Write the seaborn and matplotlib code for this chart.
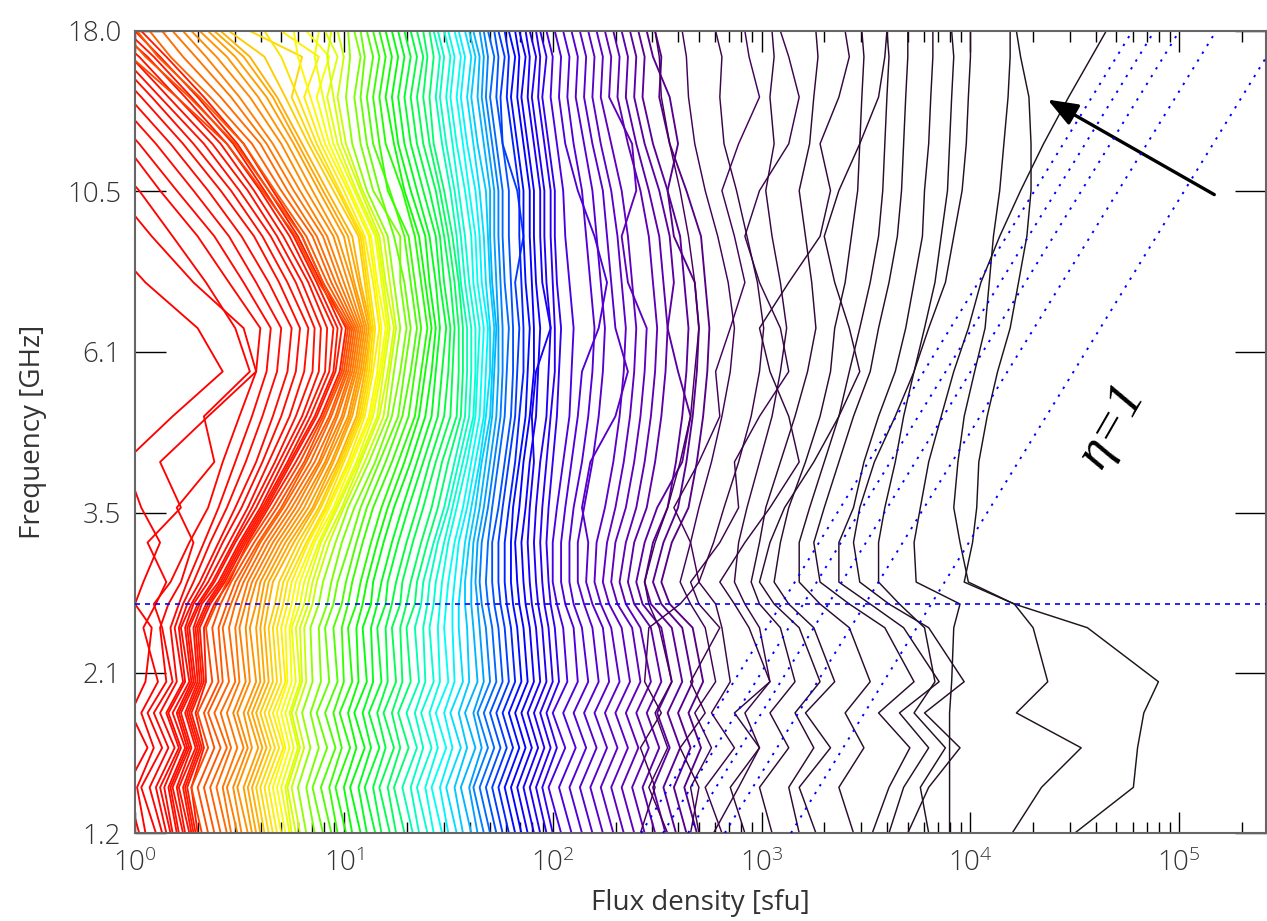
import numpy as np
import pandas as pd
import seaborn as sns
import matplotlib.pyplot as plt
from matplotlib.colors import LinearSegmentedColormap
from matplotlib.ticker import NullLocator, LogLocator

sns.set_theme(style="ticks")
plt.rcParams['font.family'] = ['Open Sans', 'DejaVu Sans']
plt.rcParams['font.weight'] = 'light'

# %% data: spectra as log10(flux / sfu) at each frequency channel
nu_ghz = [1.2, 1.4, 1.6, 1.8, 2.0, 2.4, 2.6, 2.8, 3.2, 3.6, 4.2, 4.9, 5.7, 6.6, 7.7, 9.0, 10.5, 12.3, 14.4, 16.5, 18.0]

red_logS = [
    [0.02, -0.04, 0.06, -0.02, 0.05, 0.08, 0.00, 0.04, 0.12, 0.03, -0.05, 0.18, 0.42, 0.30, 0.05, -0.15, -0.35, -0.55, -0.75, -0.90, -1.00],
    [0.05, 0.01, 0.09, 0.03, 0.11, 0.04, 0.10, 0.15, 0.06, 0.22, 0.12, 0.35, 0.58, 0.52, 0.28, 0.08, -0.10, -0.30, -0.55, -0.75, -0.90],
    [0.10, 0.03, 0.13, 0.06, 0.15, 0.12, 0.16, 0.22, 0.28, 0.20, 0.38, 0.33, 0.55, 0.48, 0.34, 0.18, 0.02, -0.18, -0.40, -0.60, -0.75],
    [0.13, 0.07, 0.16, 0.09, 0.18, 0.13, 0.09, 0.17, 0.26, 0.35, 0.42, 0.50, 0.58, 0.60, 0.45, 0.30, 0.12, -0.05, -0.25, -0.45, -0.60],
    [0.15, 0.10, 0.19, 0.12, 0.20, 0.17, 0.21, 0.25, 0.33, 0.40, 0.48, 0.56, 0.63, 0.65, 0.52, 0.38, 0.20, 0.02, -0.18, -0.36, -0.50],
    [0.17, 0.12, 0.21, 0.15, 0.23, 0.19, 0.23, 0.28, 0.36, 0.44, 0.53, 0.61, 0.68, 0.70, 0.58, 0.45, 0.28, 0.10, -0.10, -0.28, -0.43],
    [0.18, 0.14, 0.22, 0.16, 0.24, 0.21, 0.25, 0.31, 0.40, 0.48, 0.58, 0.66, 0.73, 0.75, 0.64, 0.51, 0.35, 0.17, -0.03, -0.21, -0.35],
    [0.20, 0.16, 0.24, 0.18, 0.26, 0.22, 0.27, 0.33, 0.42, 0.51, 0.61, 0.70, 0.77, 0.79, 0.69, 0.57, 0.41, 0.23, 0.03, -0.15, -0.29],
    [0.21, 0.17, 0.25, 0.20, 0.27, 0.24, 0.28, 0.35, 0.45, 0.54, 0.64, 0.74, 0.81, 0.83, 0.73, 0.61, 0.46, 0.28, 0.08, -0.10, -0.24],
    [0.23, 0.18, 0.26, 0.21, 0.28, 0.25, 0.30, 0.37, 0.47, 0.56, 0.67, 0.77, 0.85, 0.86, 0.77, 0.65, 0.50, 0.33, 0.12, -0.06, -0.20],
    [0.24, 0.20, 0.27, 0.22, 0.29, 0.26, 0.31, 0.38, 0.48, 0.58, 0.69, 0.80, 0.88, 0.89, 0.80, 0.68, 0.54, 0.37, 0.16, -0.02, -0.16],
    [0.26, 0.21, 0.29, 0.24, 0.30, 0.28, 0.32, 0.40, 0.50, 0.60, 0.71, 0.82, 0.91, 0.92, 0.83, 0.71, 0.57, 0.41, 0.20, 0.02, -0.12],
    [0.27, 0.23, 0.30, 0.25, 0.31, 0.29, 0.34, 0.41, 0.51, 0.61, 0.73, 0.84, 0.93, 0.95, 0.85, 0.74, 0.60, 0.44, 0.24, 0.06, -0.08],
    [0.28, 0.24, 0.31, 0.26, 0.32, 0.30, 0.35, 0.42, 0.52, 0.62, 0.74, 0.86, 0.95, 0.97, 0.87, 0.76, 0.62, 0.47, 0.27, 0.09, -0.04],
    [0.29, 0.25, 0.32, 0.27, 0.33, 0.31, 0.36, 0.43, 0.53, 0.63, 0.75, 0.87, 0.96, 0.99, 0.89, 0.78, 0.64, 0.49, 0.30, 0.12, 0.00],
    [0.30, 0.27, 0.33, 0.29, 0.34, 0.33, 0.38, 0.45, 0.54, 0.64, 0.77, 0.89, 0.98, 1.01, 0.90, 0.80, 0.66, 0.52, 0.33, 0.15, 0.03],
]

orange_logS = [
    [0.32, 0.27, 0.35, 0.30, 0.37, 0.34, 0.39, 0.44, 0.55, 0.66, 0.79, 0.90, 0.99, 1.02, 0.88, 0.77, 0.61, 0.44, 0.20, -0.02, -0.15],
    [0.35, 0.30, 0.38, 0.33, 0.40, 0.37, 0.41, 0.46, 0.57, 0.68, 0.81, 0.91, 1.00, 1.03, 0.90, 0.80, 0.64, 0.48, 0.26, 0.05, -0.06],
    [0.38, 0.33, 0.41, 0.35, 0.42, 0.40, 0.44, 0.48, 0.59, 0.70, 0.82, 0.93, 1.01, 1.04, 0.92, 0.82, 0.67, 0.52, 0.31, 0.11, 0.01],
    [0.41, 0.36, 0.44, 0.38, 0.45, 0.42, 0.46, 0.50, 0.60, 0.71, 0.84, 0.94, 1.02, 1.05, 0.94, 0.85, 0.70, 0.56, 0.36, 0.17, 0.07],
    [0.44, 0.39, 0.46, 0.41, 0.48, 0.45, 0.48, 0.52, 0.62, 0.73, 0.86, 0.96, 1.03, 1.06, 0.96, 0.87, 0.73, 0.60, 0.41, 0.23, 0.13],
    [0.46, 0.42, 0.49, 0.44, 0.50, 0.48, 0.51, 0.54, 0.64, 0.75, 0.88, 0.97, 1.04, 1.07, 0.98, 0.90, 0.76, 0.63, 0.46, 0.29, 0.18],
    [0.49, 0.44, 0.52, 0.47, 0.53, 0.50, 0.53, 0.56, 0.66, 0.77, 0.89, 0.99, 1.05, 1.08, 1.00, 0.92, 0.79, 0.66, 0.50, 0.34, 0.23],
    [0.51, 0.47, 0.54, 0.49, 0.55, 0.53, 0.55, 0.58, 0.68, 0.79, 0.91, 1.00, 1.06, 1.09, 1.02, 0.95, 0.82, 0.70, 0.55, 0.39, 0.27],
    [0.54, 0.49, 0.56, 0.52, 0.58, 0.55, 0.58, 0.60, 0.70, 0.81, 0.92, 1.02, 1.07, 1.10, 1.04, 0.97, 0.85, 0.73, 0.59, 0.44, 0.31],
    [0.56, 0.52, 0.59, 0.54, 0.60, 0.58, 0.60, 0.62, 0.72, 0.83, 0.94, 1.03, 1.08, 1.11, 1.05, 1.00, 0.88, 0.76, 0.63, 0.48, 0.35],
    [0.58, 0.54, 0.61, 0.56, 0.62, 0.60, 0.62, 0.64, 0.74, 0.85, 0.95, 1.04, 1.09, 1.12, 1.07, 1.02, 0.90, 0.78, 0.66, 0.52, 0.38],
    [0.60, 0.56, 0.63, 0.58, 0.64, 0.62, 0.64, 0.66, 0.76, 0.86, 0.97, 1.06, 1.10, 1.13, 1.08, 1.04, 0.92, 0.80, 0.68, 0.55, 0.41],
]

yellow_logS = [
    [0.62, 0.58, 0.65, 0.60, 0.66, 0.64, 0.67, 0.69, 0.78, 0.88, 0.98, 1.07, 1.11, 1.13, 1.10, 1.07, 0.95, 0.83, 0.72, 0.62, 0.45],
    [0.64, 0.60, 0.67, 0.62, 0.68, 0.66, 0.69, 0.71, 0.80, 0.89, 0.99, 1.08, 1.12, 1.14, 1.11, 1.08, 0.97, 0.85, 0.75, 0.80, 0.55],
    [0.66, 0.62, 0.69, 0.64, 0.70, 0.68, 0.71, 0.73, 0.82, 0.91, 1.00, 1.09, 1.13, 1.15, 1.12, 1.09, 0.98, 0.87, 0.78, 0.70, 0.62],
    [0.68, 0.64, 0.71, 0.66, 0.72, 0.70, 0.73, 0.75, 0.83, 0.92, 1.02, 1.10, 1.14, 1.17, 1.14, 1.10, 1.00, 0.89, 0.81, 0.88, 0.70],
    [0.70, 0.66, 0.72, 0.68, 0.73, 0.72, 0.75, 0.77, 0.85, 0.93, 1.03, 1.12, 1.16, 1.18, 1.15, 1.12, 1.02, 0.91, 0.84, 0.78, 0.76],
    [0.72, 0.68, 0.74, 0.70, 0.75, 0.74, 0.77, 0.79, 0.86, 0.95, 1.04, 1.13, 1.17, 1.20, 1.16, 1.13, 1.03, 0.93, 0.87, 0.93, 0.82],
    [0.74, 0.70, 0.76, 0.72, 0.77, 0.75, 0.79, 0.81, 0.88, 0.96, 1.06, 1.14, 1.18, 1.21, 1.18, 1.15, 1.05, 0.95, 0.90, 0.86, 0.88],
    [0.75, 0.72, 0.78, 0.74, 0.79, 0.77, 0.81, 0.83, 0.89, 0.97, 1.07, 1.16, 1.19, 1.22, 1.19, 1.16, 1.06, 0.97, 0.92, 0.97, 0.91],
    [0.77, 0.73, 0.79, 0.75, 0.80, 0.79, 0.83, 0.85, 0.91, 0.99, 1.08, 1.17, 1.21, 1.24, 1.20, 1.17, 1.08, 0.99, 0.95, 0.92, 0.94],
    [0.79, 0.75, 0.81, 0.77, 0.82, 0.81, 0.85, 0.87, 0.93, 1.00, 1.10, 1.19, 1.22, 1.25, 1.22, 1.19, 1.09, 1.01, 0.97, 1.00, 0.97],
]

green_logS = [
    [0.82, 0.78, 0.84, 0.80, 0.85, 0.84, 0.88, 0.90, 0.96, 1.02, 1.12, 1.21, 1.24, 1.27, 1.24, 1.21, 1.11, 1.04, 1.01, 1.03, 1.02],
    [0.86, 0.82, 0.88, 0.84, 0.89, 0.88, 0.92, 0.94, 0.99, 1.05, 1.15, 1.23, 1.27, 1.30, 1.27, 1.27, 1.14, 1.08, 1.05, 1.08, 1.05],
    [0.90, 0.85, 0.92, 0.87, 0.93, 0.91, 0.95, 0.97, 1.03, 1.08, 1.17, 1.26, 1.29, 1.32, 1.29, 1.24, 1.17, 1.11, 1.08, 1.10, 1.08],
    [0.94, 0.89, 0.96, 0.91, 0.97, 0.95, 0.99, 1.01, 1.06, 1.11, 1.20, 1.28, 1.32, 1.35, 1.32, 1.29, 1.22, 1.14, 1.11, 1.14, 1.11],
    [0.97, 0.93, 0.99, 0.95, 1.00, 0.99, 1.02, 1.04, 1.09, 1.14, 1.23, 1.31, 1.34, 1.37, 1.34, 1.31, 1.21, 1.17, 1.14, 1.17, 1.14],
    [1.01, 0.96, 1.03, 0.98, 1.04, 1.02, 1.06, 1.08, 1.13, 1.18, 1.26, 1.34, 1.37, 1.40, 1.37, 1.34, 1.28, 1.20, 1.17, 1.20, 1.17],
    [1.04, 1.00, 1.06, 1.02, 1.07, 1.06, 1.09, 1.11, 1.16, 1.21, 1.29, 1.36, 1.39, 1.42, 1.39, 1.36, 1.29, 1.24, 1.20, 1.23, 1.20],
    [1.08, 1.03, 1.10, 1.05, 1.11, 1.09, 1.13, 1.14, 1.19, 1.24, 1.32, 1.39, 1.42, 1.44, 1.41, 1.39, 1.32, 1.26, 1.23, 1.26, 1.23],
    [1.11, 1.07, 1.13, 1.09, 1.14, 1.13, 1.16, 1.18, 1.23, 1.28, 1.35, 1.42, 1.44, 1.46, 1.44, 1.41, 1.35, 1.29, 1.26, 1.29, 1.26],
    [1.15, 1.10, 1.17, 1.12, 1.18, 1.16, 1.20, 1.21, 1.26, 1.31, 1.38, 1.45, 1.47, 1.49, 1.46, 1.44, 1.38, 1.32, 1.29, 1.32, 1.29],
    [1.18, 1.14, 1.20, 1.16, 1.21, 1.20, 1.23, 1.25, 1.30, 1.35, 1.41, 1.48, 1.50, 1.51, 1.48, 1.46, 1.41, 1.35, 1.32, 1.35, 1.32],
    [1.22, 1.17, 1.24, 1.19, 1.25, 1.23, 1.27, 1.28, 1.33, 1.38, 1.44, 1.51, 1.52, 1.53, 1.51, 1.48, 1.44, 1.38, 1.35, 1.38, 1.35],
    [1.25, 1.21, 1.27, 1.23, 1.28, 1.27, 1.30, 1.32, 1.37, 1.42, 1.47, 1.54, 1.55, 1.55, 1.53, 1.50, 1.46, 1.41, 1.38, 1.40, 1.38],
    [1.29, 1.24, 1.31, 1.26, 1.32, 1.30, 1.34, 1.35, 1.40, 1.45, 1.50, 1.56, 1.57, 1.57, 1.55, 1.52, 1.48, 1.43, 1.41, 1.43, 1.41],
]

cyan_logS = [
    [1.33, 1.28, 1.35, 1.30, 1.36, 1.34, 1.37, 1.38, 1.43, 1.48, 1.53, 1.58, 1.59, 1.59, 1.56, 1.54, 1.51, 1.47, 1.44, 1.46, 1.43],
    [1.36, 1.32, 1.38, 1.34, 1.39, 1.38, 1.40, 1.41, 1.45, 1.50, 1.55, 1.60, 1.61, 1.61, 1.58, 1.56, 1.53, 1.49, 1.46, 1.48, 1.45],
    [1.40, 1.35, 1.42, 1.37, 1.43, 1.41, 1.43, 1.44, 1.48, 1.52, 1.57, 1.62, 1.63, 1.63, 1.60, 1.58, 1.55, 1.52, 1.49, 1.51, 1.48],
    [1.43, 1.39, 1.45, 1.41, 1.46, 1.45, 1.46, 1.47, 1.50, 1.54, 1.59, 1.63, 1.64, 1.65, 1.62, 1.61, 1.58, 1.54, 1.51, 1.53, 1.50],
    [1.47, 1.42, 1.49, 1.44, 1.50, 1.48, 1.49, 1.50, 1.53, 1.57, 1.61, 1.65, 1.66, 1.67, 1.64, 1.63, 1.60, 1.57, 1.54, 1.56, 1.53],
    [1.50, 1.46, 1.52, 1.48, 1.53, 1.52, 1.52, 1.53, 1.55, 1.59, 1.63, 1.67, 1.68, 1.69, 1.66, 1.65, 1.63, 1.59, 1.56, 1.58, 1.55],
    [1.54, 1.49, 1.56, 1.51, 1.57, 1.55, 1.55, 1.56, 1.58, 1.61, 1.65, 1.68, 1.70, 1.70, 1.68, 1.67, 1.65, 1.62, 1.59, 1.61, 1.58],
    [1.57, 1.53, 1.59, 1.55, 1.60, 1.59, 1.58, 1.58, 1.60, 1.63, 1.66, 1.70, 1.71, 1.72, 1.70, 1.69, 1.68, 1.64, 1.61, 1.63, 1.60],
    [1.61, 1.56, 1.63, 1.58, 1.64, 1.62, 1.61, 1.61, 1.62, 1.65, 1.68, 1.71, 1.72, 1.73, 1.71, 1.70, 1.70, 1.67, 1.64, 1.65, 1.62],
    [1.64, 1.60, 1.66, 1.62, 1.67, 1.65, 1.64, 1.63, 1.64, 1.67, 1.70, 1.73, 1.74, 1.74, 1.73, 1.72, 1.72, 1.69, 1.66, 1.67, 1.65],
]

blue_logS = [
    [1.67, 1.62, 1.69, 1.64, 1.70, 1.68, 1.66, 1.65, 1.66, 1.69, 1.72, 1.75, 1.76, 1.76, 1.75, 1.74, 1.74, 1.71, 1.68, 1.69, 1.67],
    [1.70, 1.65, 1.72, 1.67, 1.73, 1.71, 1.69, 1.68, 1.69, 1.71, 1.74, 1.77, 1.78, 1.79, 1.77, 1.76, 1.76, 1.73, 1.70, 1.72, 1.69],
    [1.73, 1.68, 1.75, 1.70, 1.76, 1.74, 1.72, 1.71, 1.71, 1.74, 1.77, 1.80, 1.81, 1.81, 1.80, 1.79, 1.79, 1.76, 1.73, 1.74, 1.72],
    [1.76, 1.71, 1.78, 1.73, 1.79, 1.77, 1.75, 1.74, 1.74, 1.76, 1.79, 1.82, 1.83, 1.84, 1.82, 1.86, 1.83, 1.76, 1.75, 1.77, 1.74],
    [1.79, 1.74, 1.81, 1.76, 1.82, 1.80, 1.78, 1.77, 1.77, 1.79, 1.82, 1.84, 1.86, 1.86, 1.85, 1.84, 1.84, 1.81, 1.78, 1.79, 1.77],
    [1.82, 1.77, 1.84, 1.79, 1.85, 1.83, 1.81, 1.80, 1.80, 1.81, 1.84, 1.87, 1.88, 1.89, 1.87, 1.86, 1.86, 1.83, 1.80, 1.82, 1.79],
    [1.85, 1.80, 1.87, 1.82, 1.88, 1.86, 1.84, 1.83, 1.82, 1.84, 1.86, 1.89, 1.91, 1.91, 1.90, 1.89, 1.89, 1.86, 1.83, 1.84, 1.82],
    [1.88, 1.83, 1.90, 1.85, 1.91, 1.89, 1.87, 1.86, 1.85, 1.87, 1.89, 1.92, 1.93, 1.94, 1.92, 1.91, 1.91, 1.88, 1.85, 1.87, 1.84],
    [1.91, 1.86, 1.93, 1.88, 1.94, 1.92, 1.90, 1.89, 1.88, 1.89, 1.91, 1.90, 1.92, 1.99, 1.95, 1.94, 1.94, 1.91, 1.88, 1.89, 1.87],
    [1.94, 1.89, 1.96, 1.91, 1.97, 1.95, 1.93, 1.92, 1.91, 1.92, 1.94, 1.97, 1.98, 1.99, 1.97, 1.96, 1.96, 1.93, 1.90, 1.92, 1.89],
    [1.97, 1.92, 1.99, 1.94, 2.00, 1.98, 1.96, 1.95, 1.94, 1.95, 1.97, 1.99, 2.01, 2.01, 2.00, 1.99, 1.99, 1.96, 1.93, 1.94, 1.92],
    [2.00, 1.95, 2.02, 1.97, 2.03, 2.01, 1.99, 1.98, 1.97, 1.98, 2.00, 2.02, 2.03, 2.04, 2.02, 2.01, 2.01, 1.98, 1.95, 1.97, 1.94],
]

purple_logS = [
    [2.04, 1.98, 2.06, 2.00, 2.07, 2.05, 2.02, 2.00, 2.00, 2.02, 2.05, 2.08, 2.09, 2.10, 2.08, 2.06, 2.05, 2.02, 1.99, 2.00, 1.97],
    [2.09, 2.03, 2.11, 2.05, 2.12, 2.10, 2.06, 2.04, 2.04, 2.06, 2.09, 2.12, 2.14, 2.22, 2.26, 2.20, 2.12, 2.06, 2.03, 2.04, 2.01],
    [2.14, 2.08, 2.16, 2.10, 2.17, 2.14, 2.10, 2.08, 2.08, 2.10, 2.14, 2.17, 2.19, 2.20, 2.18, 2.16, 2.14, 2.10, 2.07, 2.08, 2.05],
    [2.19, 2.13, 2.21, 2.15, 2.22, 2.19, 2.15, 2.12, 2.12, 2.15, 2.19, 2.22, 2.24, 2.25, 2.23, 2.21, 2.19, 2.15, 2.11, 2.12, 2.09],
    [2.24, 2.18, 2.26, 2.20, 2.27, 2.24, 2.19, 2.16, 2.17, 2.14, 2.18, 2.30, 2.36, 2.30, 2.28, 2.26, 2.24, 2.19, 2.15, 2.16, 2.13],
    [2.29, 2.23, 2.31, 2.25, 2.32, 2.28, 2.23, 2.20, 2.21, 2.25, 2.29, 2.32, 2.34, 2.35, 2.33, 2.31, 2.28, 2.23, 2.19, 2.20, 2.17],
    [2.34, 2.28, 2.36, 2.30, 2.37, 2.33, 2.27, 2.24, 2.26, 2.30, 2.34, 2.37, 2.39, 2.40, 2.38, 2.36, 2.33, 2.28, 2.23, 2.24, 2.21],
    [2.39, 2.33, 2.41, 2.35, 2.42, 2.38, 2.31, 2.28, 2.30, 2.35, 2.39, 2.42, 2.44, 2.45, 2.36, 2.33, 2.40, 2.38, 2.27, 2.28, 2.25],
    [2.44, 2.38, 2.46, 2.40, 2.47, 2.42, 2.35, 2.32, 2.35, 2.40, 2.44, 2.47, 2.49, 2.50, 2.48, 2.46, 2.42, 2.36, 2.31, 2.32, 2.29],
    [2.49, 2.43, 2.51, 2.45, 2.52, 2.47, 2.39, 2.36, 2.39, 2.45, 2.49, 2.52, 2.54, 2.55, 2.53, 2.51, 2.46, 2.40, 2.35, 2.36, 2.33],
    [2.54, 2.48, 2.56, 2.50, 2.57, 2.52, 2.43, 2.40, 2.44, 2.50, 2.62, 2.66, 2.60, 2.55, 2.58, 2.56, 2.51, 2.44, 2.39, 2.40, 2.37],
    [2.59, 2.53, 2.61, 2.55, 2.62, 2.57, 2.47, 2.44, 2.48, 2.55, 2.59, 2.62, 2.64, 2.65, 2.63, 2.61, 2.55, 2.48, 2.43, 2.44, 2.41],
    [2.64, 2.58, 2.66, 2.60, 2.67, 2.62, 2.52, 2.48, 2.53, 2.60, 2.64, 2.67, 2.69, 2.70, 2.68, 2.58, 2.55, 2.60, 2.56, 2.48, 2.45],
    [2.69, 2.63, 2.71, 2.65, 2.72, 2.67, 2.56, 2.52, 2.57, 2.65, 2.69, 2.72, 2.74, 2.75, 2.73, 2.71, 2.64, 2.56, 2.51, 2.52, 2.49],
]

dark_logS = [
    [2.55, 2.46, 2.55, 2.49, 2.57, 2.51, 2.46, 2.44, 2.49, 2.55, 2.61, 2.66, 2.68, 2.70, 2.68, 2.65, 2.61, 2.56, 2.52, 2.51, 2.49],
    [2.42, 2.49, 2.42, 2.52, 2.44, 2.46, 2.61, 2.70, 2.66, 2.58, 2.70, 2.80, 2.78, 2.85, 2.92, 2.87, 2.81, 2.89, 2.99, 2.94, 2.92],
    [2.70, 2.66, 2.76, 2.68, 2.78, 2.73, 2.66, 2.61, 2.66, 2.70, 2.76, 2.81, 2.85, 2.87, 2.84, 2.79, 2.73, 2.68, 2.65, 2.64, 2.62],
    [2.66, 2.70, 2.61, 2.73, 2.66, 2.80, 2.70, 2.66, 2.80, 2.89, 2.87, 2.99, 3.13, 3.09, 2.99, 2.92, 2.99, 3.13, 3.18, 3.13, 3.09],
    [2.81, 2.73, 2.87, 2.76, 2.85, 2.81, 2.78, 2.70, 2.77, 2.82, 2.89, 2.95, 2.99, 3.01, 2.98, 2.93, 2.88, 2.82, 2.80, 2.81, 2.78],
    [2.77, 2.89, 2.99, 2.92, 3.04, 2.99, 2.92, 2.87, 2.89, 2.93, 2.99, 3.05, 3.09, 3.12, 3.09, 3.05, 3.02, 3.06, 3.04, 3.06, 3.05],
    [2.92, 2.85, 2.99, 2.87, 3.04, 2.94, 2.87, 2.80, 2.92, 3.04, 3.18, 3.13, 3.04, 2.99, 3.13, 3.28, 3.33, 3.28, 3.37, 3.42, 3.40],
    [3.05, 2.99, 3.13, 3.04, 3.16, 3.09, 2.99, 2.95, 2.99, 3.02, 3.09, 3.16, 3.22, 3.26, 3.24, 3.21, 3.18, 3.23, 3.25, 3.27, 3.26],
    [3.18, 3.13, 3.25, 3.16, 3.28, 3.18, 3.06, 2.99, 3.04, 3.11, 3.25, 3.37, 3.47, 3.42, 3.35, 3.30, 3.37, 3.47, 3.56, 3.59, 3.60],
    [3.26, 3.18, 3.33, 3.21, 3.35, 3.25, 3.13, 3.06, 3.09, 3.13, 3.21, 3.28, 3.33, 3.35, 3.40, 3.43, 3.46, 3.47, 3.48, 3.49, 3.48],
    [3.44, 3.37, 3.49, 3.40, 3.52, 3.42, 3.28, 3.18, 3.18, 3.23, 3.30, 3.37, 3.42, 3.47, 3.52, 3.56, 3.58, 3.59, 3.60, 3.61, 3.60],
    [3.53, 3.61, 3.71, 3.56, 3.73, 3.59, 3.42, 3.28, 3.25, 3.30, 3.37, 3.44, 3.52, 3.56, 3.61, 3.65, 3.67, 3.68, 3.69, 3.70, 3.70],
    [3.61, 3.68, 3.80, 3.66, 3.85, 3.68, 3.52, 3.37, 3.37, 3.44, 3.49, 3.56, 3.64, 3.69, 3.73, 3.77, 3.78, 3.80, 3.81, 3.82, 3.82],
    [3.70, 3.80, 3.95, 3.78, 3.97, 3.80, 3.61, 3.47, 3.44, 3.47, 3.54, 3.64, 3.73, 3.80, 3.88, 3.92, 3.96, 3.98, 3.99, 4.00, 4.00],
    [3.80, 3.76, 3.88, 3.73, 3.83, 3.78, 3.66, 3.56, 3.56, 3.59, 3.64, 3.68, 3.73, 3.78, 3.83, 3.86, 3.89, 3.90, 3.91, 3.92, 3.91],
    [3.90, 3.90, 3.90, 3.90, 3.91, 3.92, 3.95, 3.74, 3.73, 3.76, 3.80, 3.86, 3.92, 3.99, 4.05, 4.14, 4.24, 4.35, 4.47, 4.58, 4.65],
    [4.20, 4.34, 4.53, 4.22, 4.37, 4.30, 4.21, 3.99, 3.95, 3.92, 3.94, 3.97, 4.02, 4.07, 4.09, 4.11, 4.14, 4.16, 4.18, 4.19, 4.19],
    [4.50, 4.78, 4.80, 4.83, 4.90, 4.56, 4.21, 3.97, 4.01, 4.03, 4.04, 4.08, 4.13, 4.19, 4.23, 4.27, 4.29, 4.29, 4.28, 4.24, 4.22],
]

# eta = 1 lines (S ~ nu^2), flux at 18 GHz
eta_S18 = [5.96e4, 7.59e4, 1.0e5, 1.50e5, 3.11e5]
nu_cut = 2.6  # horizontal marker

freq_ticks = [1.2, 2.06, 3.54, 6.09, 10.47, 18.0]
freq_labels = ["1.2", "2.1", "3.5", "6.1", "10.5", "18.0"]

# %% long table + colours (IDL-like rainbow, red first and black last)
groups = [red_logS, orange_logS, yellow_logS, green_logS, cyan_logS, blue_logS, purple_logS, dark_logS]
group_cols = [
    ["#ff0000", "#ff1a00"],
    ["#ff4400", "#ffb000"],
    ["#ffcc00", "#ffff00", "#c8ff00"],
    ["#90ff00", "#00ff00", "#00ff70"],
    ["#00ffb0", "#00ffff", "#00a0ff"],
    ["#0080ff", "#0000ff", "#3000f0"],
    ["#4a00e0", "#6000c0", "#560088"],
    ["#480060", "#2c0a30", "#1e141e"],
]

rows, palette, is_dark = [], {}, {}
for gi, (g, cols) in enumerate(zip(groups, group_cols)):
    cm = LinearSegmentedColormap.from_list("g", cols)
    for k, s in enumerate(g):
        name = "c%03d" % len(palette)
        palette[name] = cm(k / max(len(g) - 1, 1))
        is_dark[name] = gi == len(groups) - 1
        rows += [(name, f, 10 ** v) for f, v in zip(nu_ghz, s)]

df = pd.DataFrame(rows, columns=["curve", "freq", "flux"])
df["dark"] = df["curve"].map(is_dark)

# %%
fig = plt.figure(figsize=(12.67, 9.21), dpi=100)
ax = fig.add_axes([135 / 1267, 88 / 921, 1131 / 1267, 802 / 921])
ax.set_xscale("log")
ax.set_yscale("log")

for dark, lw in [(False, 1.35), (True, 1.05)]:
    sub = df[df["dark"] == dark]
    sns.lineplot(
        data=sub, x="flux", y="freq", hue="curve",
        palette={k: palette[k] for k in sub["curve"].unique()},
        sort=False, estimator=None, legend=False, linewidth=lw, ax=ax,
    )

for s18 in eta_S18:
    ax.plot([s18 * (1.2 / 18.0) ** 2, s18], [1.2, 18.0], color="blue",
            linestyle=(0, (1.2, 3.5)), linewidth=1.4, zorder=5)
ax.axhline(nu_cut, color="blue", linestyle=(0, (3, 3)), linewidth=1.2, zorder=5)

ax.annotate("", xy=(2.34e4, 14.28), xytext=(1.47e5, 10.36),
            arrowprops=dict(arrowstyle="-|>,head_length=1.3,head_width=0.5",
                            lw=2.4, color="black", shrinkA=0, shrinkB=0,
                            mutation_scale=14))
ax.text(4.75e4, 4.75, "η=1", rotation=60, fontsize=38, style="italic", color="black",
        weight="normal", family=["Liberation Serif", "DejaVu Serif"], ha="center", va="center")

ax.set_xlim(1, 2.6e5)
ax.set_ylim(1.2, 18.0)
ax.set_yticks(freq_ticks, labels=freq_labels)
ax.yaxis.set_minor_locator(NullLocator())
ax.xaxis.set_major_locator(LogLocator(base=10, numticks=10))
ax.xaxis.set_minor_locator(LogLocator(base=10, subs=np.arange(2, 10), numticks=20))

ax.tick_params(axis="x", which="major", direction="in", length=15, width=1,
               top=True, bottom=True, color="black", labelsize=20, labelcolor="#333333", pad=12)
ax.tick_params(axis="x", which="minor", direction="in", length=8, width=1,
               top=True, bottom=True, color="black")
ax.tick_params(axis="y", which="major", direction="in", length=22, width=1,
               left=True, right=True, color="black", labelsize=20, labelcolor="#333333", pad=10)

for side in ["left", "right", "top", "bottom"]:
    ax.spines[side].set_color("#666666")
    ax.spines[side].set_linewidth(1.5)

ax.set_xlabel("Flux density [sfu]", fontsize=20, color="#333333", labelpad=8)
ax.set_ylabel("Frequency [GHz]", fontsize=20, color="#333333", labelpad=14)

fig.savefig("out.png", dpi=100)
